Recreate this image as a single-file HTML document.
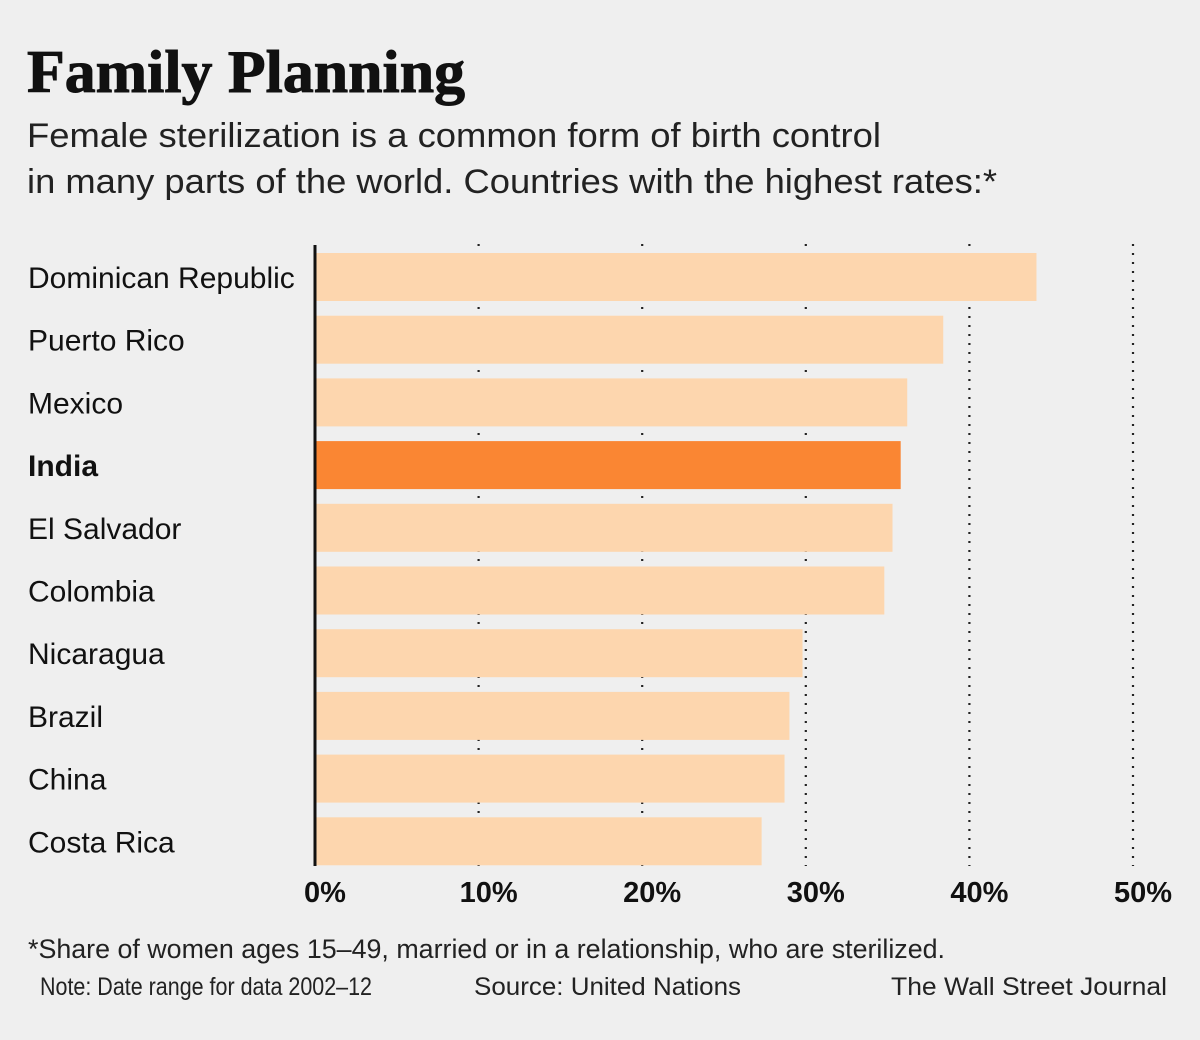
<!DOCTYPE html>
<html><head><meta charset="utf-8"><style>
html,body{margin:0;padding:0;background:#efefef;}
svg{display:block;font-family:"Liberation Sans Narrow","Liberation Sans",sans-serif;}
</style></head><body>
<svg id="chart" width="1200" height="1040" viewBox="0 0 1200 1040">
<rect width="1200" height="1040" fill="#efefef"/>
<text x="27" y="92" font-family="Liberation Serif, serif" font-weight="bold" font-size="60" fill="#111" stroke="#111" stroke-width="1" textLength="438" lengthAdjust="spacingAndGlyphs">Family Planning</text>
<text x="27" y="147" font-family="Liberation Sans, sans-serif" font-size="34" fill="#222" textLength="854" lengthAdjust="spacingAndGlyphs">Female sterilization is a common form of birth control</text>
<text x="27" y="193" font-family="Liberation Sans, sans-serif" font-size="34" fill="#222" textLength="970" lengthAdjust="spacingAndGlyphs">in many parts of the world. Countries with the highest rates:*</text>
<g id="grid"></g>
<g id="bars"></g>
<line x1="315" y1="245" x2="315" y2="866" stroke="#111" stroke-width="3"/>
<g id="ticks"></g>
<text x="28" y="958" font-size="27" fill="#222" textLength="917" lengthAdjust="spacingAndGlyphs">*Share of women ages 15–49, married or in a relationship, who are sterilized.</text>
<text x="40" y="995" font-family="Liberation Sans, sans-serif" font-size="25" fill="#222" textLength="332" lengthAdjust="spacingAndGlyphs">Note: Date range for data 2002–12</text>
<text x="474" y="995" font-family="Liberation Sans, sans-serif" font-size="25" fill="#222" textLength="267" lengthAdjust="spacingAndGlyphs">Source: United Nations</text>
<text x="891" y="995" font-family="Liberation Sans, sans-serif" font-size="25" fill="#222" textLength="276" lengthAdjust="spacingAndGlyphs">The Wall Street Journal</text>
</svg>
<script>
const countries=["Dominican Republic","Puerto Rico","Mexico","India","El Salvador","Colombia","Nicaragua","Brazil","China","Costa Rica"];
const values=[44.1,38.4,36.2,35.8,35.3,34.8,29.8,29.0,28.7,27.3];
const highlight=["India"];
const tickValues=[0,10,20,30,40,50];
const tickLabels=["0%","10%","20%","30%","40%","50%"];
const NS="http://www.w3.org/2000/svg";
const x0=315,pxPer=16.36;
const xs=v=>x0+v*pxPer;
const rowTop=253,pitch=62.7,barH=48;
const ys=i=>rowTop+i*pitch;
function mk(t,a,p){const e=document.createElementNS(NS,t);for(const k in a)e.setAttribute(k,a[k]);p.appendChild(e);return e;}
const grid=document.getElementById('grid'),bars=document.getElementById('bars'),ticks=document.getElementById('ticks');
tickValues.forEach((v,i)=>{
 if(v>0){const l=mk('line',{x1:xs(v),x2:xs(v),y1:244,y2:866,stroke:'#222','stroke-width':2.2,'stroke-dasharray':'2 7'},grid);
 
 }
 const t=mk('text',{x:xs(v)+10,y:902,'text-anchor':'middle','font-weight':'bold','font-size':29,fill:'#111'},ticks);
 t.textContent=tickLabels[i];
 
 
});
countries.forEach((c,i)=>{
 const hi=highlight.includes(c);
 const r=mk('rect',{x:316,y:ys(i),width:xs(values[i])-316,height:barH,fill:hi?'#fa8633':'#fdd6ae'},bars);
 
 
 const t=mk('text',{x:28,y:ys(i)+barH/2+11,'font-size':30,fill:'#111','font-weight':hi?'bold':'normal'},bars);
 t.textContent=c;
 
 
});
</script>
</body></html>
